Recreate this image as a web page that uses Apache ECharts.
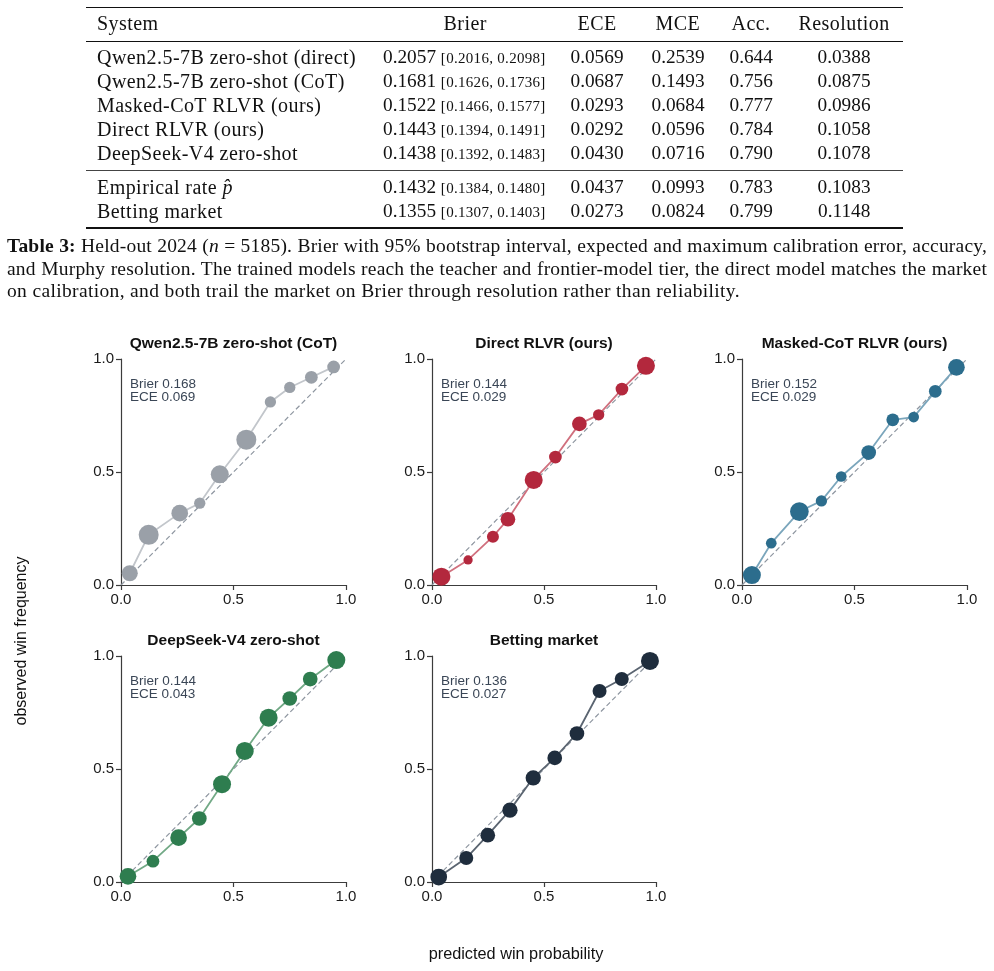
<!DOCTYPE html>
<html>
<head>
<meta charset="utf-8">
<script src="https://cdn.jsdelivr.net/npm/echarts@6/dist/echarts.min.js"></script>
<style>
  body { margin: 0; background: #fff; }
  #page { position: relative; width: 994px; height: 971px; overflow: hidden; }
  #calib { position: absolute; left: 0; top: 0; width: 994px; height: 971px; }
  .tex { position: absolute; font-family: 'Liberation Serif', 'DejaVu Serif', serif; color: #111; white-space: nowrap; }
  .rule { position: absolute; left: 86px; width: 817px; background: #111; }
  .cell { font-size: 19.3px; line-height: 24px; height: 24px; }
  .name { font-size: 20px; letter-spacing: 0.45px; }
  .small { font-size: 15px; letter-spacing: 0.3px; }
  #caption { position: absolute; left: 7px; top: 235px; width: 980px; font-family: 'Liberation Serif', serif; font-size: 19.5px; line-height: 22.6px; color: #111; }
  #caption div { text-align: justify; text-align-last: justify; white-space: nowrap; letter-spacing: 0.2px; word-spacing: -3px; }
  #caption div.last { text-align-last: left; letter-spacing: 0.35px; word-spacing: 0; }
</style>
</head>
<body>
<div id="page">
  <div id="calib"></div>
  <div id="table"></div>
  <div id="caption">
    <div><b>Table 3:</b> Held-out 2024 (<i>n</i> = 5185). Brier with 95% bootstrap interval, expected and maximum calibration error, accuracy,</div>
    <div>and Murphy resolution. The trained models reach the teacher and frontier-model tier, the direct model matches the market</div>
    <div class="last">on calibration, and both trail the market on Brier through resolution rather than reliability.</div>
  </div>
</div>
<script>
  // ---- table 3 ----
  let tableSystems = ['Qwen2.5-7B zero-shot (direct)', 'Qwen2.5-7B zero-shot (CoT)', 'Masked-CoT RLVR (ours)',
    'Direct RLVR (ours)', 'DeepSeek-V4 zero-shot', 'Empirical rate <i>p&#770;</i>', 'Betting market']
  let tableBrier = ['0.2057', '0.1681', '0.1522', '0.1443', '0.1438', '0.1432', '0.1355']
  let tableBrierLo = ['0.2016', '0.1626', '0.1466', '0.1394', '0.1392', '0.1384', '0.1307']
  let tableBrierHi = ['0.2098', '0.1736', '0.1577', '0.1491', '0.1483', '0.1480', '0.1403']
  let tableECE = ['0.0569', '0.0687', '0.0293', '0.0292', '0.0430', '0.0437', '0.0273']
  let tableMCE = ['0.2539', '0.1493', '0.0684', '0.0596', '0.0716', '0.0993', '0.0824']
  let tableAcc = ['0.644', '0.756', '0.777', '0.784', '0.790', '0.783', '0.799']
  let tableRes = ['0.0388', '0.0875', '0.0986', '0.1058', '0.1078', '0.1083', '0.1148']
  let tableHeader = ['System', 'Brier', 'ECE', 'MCE', 'Acc.', 'Resolution']

  // ---- reliability panels (bin mean prediction, observed frequency, bin count) ----
  let panelTitles = ['Qwen2.5-7B zero-shot (CoT)', 'Direct RLVR (ours)', 'Masked-CoT RLVR (ours)',
    'DeepSeek-V4 zero-shot', 'Betting market']
  let panelBrier = ['0.168', '0.144', '0.152', '0.144', '0.136']
  let panelECE = ['0.069', '0.029', '0.029', '0.043', '0.027']

  let qwenCotPred = [0.039, 0.123, 0.261, 0.350, 0.439, 0.557, 0.664, 0.750, 0.846, 0.945]
  let qwenCotObs = [0.052, 0.222, 0.318, 0.362, 0.490, 0.643, 0.810, 0.874, 0.919, 0.965]
  let qwenCotCount = [554, 865, 603, 276, 701, 865, 276, 276, 349, 349]

  let directPred = [0.042, 0.161, 0.272, 0.339, 0.454, 0.551, 0.658, 0.744, 0.848, 0.955]
  let directObs = [0.037, 0.111, 0.214, 0.291, 0.465, 0.566, 0.713, 0.753, 0.867, 0.970]
  let directCount = [701, 187, 311, 467, 701, 349, 467, 276, 349, 701]

  let maskedPred = [0.044, 0.130, 0.255, 0.353, 0.441, 0.563, 0.670, 0.763, 0.859, 0.953]
  let maskedObs = [0.044, 0.185, 0.325, 0.372, 0.480, 0.586, 0.731, 0.743, 0.857, 0.963]
  let maskedCount = [701, 248, 756, 276, 248, 467, 349, 248, 349, 603]

  let deepseekPred = [0.031, 0.142, 0.256, 0.348, 0.449, 0.550, 0.656, 0.750, 0.841, 0.957]
  let deepseekObs = [0.025, 0.092, 0.196, 0.281, 0.433, 0.580, 0.727, 0.812, 0.898, 0.982]
  let deepseekCount = [603, 349, 603, 467, 701, 701, 701, 467, 467, 701]

  let marketPred = [0.030, 0.153, 0.249, 0.348, 0.452, 0.548, 0.647, 0.748, 0.847, 0.973]
  let marketObs = [0.022, 0.106, 0.207, 0.318, 0.461, 0.549, 0.657, 0.845, 0.898, 0.978]
  let marketCount = [603, 424, 467, 506, 506, 467, 467, 424, 424, 701]

  let panelPred = [qwenCotPred, directPred, maskedPred, deepseekPred, marketPred]
  let panelObs = [qwenCotObs, directObs, maskedObs, deepseekObs, marketObs]
  let panelCount = [qwenCotCount, directCount, maskedCount, deepseekCount, marketCount]

  // ---- build the table ----
  let tbl = document.getElementById('table')
  function put(html, cls, css) {
    let d = document.createElement('div')
    d.className = cls
    d.innerHTML = html
    Object.assign(d.style, css)
    tbl.appendChild(d)
    return d
  }
  function centered(html, cls, cx, top) {
    let d = put(html, cls, { top: top + 'px', left: '0px' })
    d.style.left = (cx - d.offsetWidth / 2) + 'px'
  }
  put('', 'rule', { top: '6.5px', height: '1.6px' })
  put('', 'rule', { top: '40.5px', height: '0.9px' })
  put('', 'rule', { top: '169.5px', height: '1.2px', background: '#444' })
  put('', 'rule', { top: '227px', height: '1.6px' })

  let colCenters = [465, 597, 678, 751, 844]
  put(tableHeader[0], 'tex cell name', { left: '97px', top: '11px' })
  for (let c = 1; c < tableHeader.length; c++) centered(tableHeader[c], 'tex cell name', colCenters[c - 1], 11)

  let rowTops = [45, 69, 93, 117, 141, 175, 199]
  for (let r = 0; r < tableSystems.length; r++) {
    let t = rowTops[r]
    put(tableSystems[r], 'tex cell name', { left: '97px', top: t + 'px' })
    put(tableBrier[r] + ' <span class="small">[' + tableBrierLo[r] + ', ' + tableBrierHi[r] + ']</span>',
      'tex cell', { left: '383px', top: t + 'px' })
    centered(tableECE[r], 'tex cell', colCenters[1], t)
    centered(tableMCE[r], 'tex cell', colCenters[2], t)
    centered(tableAcc[r], 'tex cell', colCenters[3], t)
    centered(tableRes[r], 'tex cell', colCenters[4], t)
  }

  // ---- reliability diagrams ----
  let sans = 'Liberation Sans, Arial, Helvetica, sans-serif'
  let markerColors = ['#9aa0a8', '#b3283d', '#2c6d8d', '#2e7d4f', '#1f2d3d']
  let lineColors = ['#c2c6cb', '#d0707e', '#7ba6bc', '#72a986', '#5b6571']
  let grids = [
    { left: 121, top: 359, width: 225, height: 226 },
    { left: 432, top: 359, width: 224, height: 226 },
    { left: 742, top: 359, width: 225, height: 226 },
    { left: 121, top: 656, width: 225, height: 226 },
    { left: 432, top: 656, width: 224, height: 226 }
  ]
  let axisStyle = { color: '#3c3c3c', width: 1.2 }

  let option = {
    animation: false,
    title: [],
    grid: [],
    xAxis: [],
    yAxis: [],
    series: [],
    graphic: [
      {
        type: 'text', x: 22, y: 641, rotation: Math.PI / 2,
        style: { text: 'observed win frequency', font: '16px ' + sans, fill: '#111', align: 'center', verticalAlign: 'middle' }
      },
      {
        type: 'text', x: 516, y: 955,
        style: { text: 'predicted win probability', font: '16.3px ' + sans, fill: '#111', align: 'center', verticalAlign: 'middle' }
      }
    ]
  }

  panelTitles.forEach(function (name, i) {
    let g = grids[i]
    option.grid.push(g)
    option.title.push({
      text: name, left: g.left + g.width / 2, top: g.top - 23, textAlign: 'center', padding: 0,
      textStyle: { fontFamily: sans, fontSize: 15.5, fontWeight: 'bold', color: '#111' }
    })
    option.title.push({
      text: 'Brier ' + panelBrier[i] + '\nECE ' + panelECE[i], left: g.left + 9, top: g.top + 19, padding: 0,
      textStyle: { fontFamily: sans, fontSize: 13.5, fontWeight: 'normal', color: '#3a4656', lineHeight: 13 }
    })
    let axisCommon = {
      gridIndex: i, type: 'value', min: 0, max: 1, interval: 0.5,
      axisLine: { show: true, lineStyle: axisStyle },
      axisTick: { show: true, length: 5, lineStyle: axisStyle },
      splitLine: { show: false },
      axisLabel: { formatter: function (v) { return v.toFixed(1) }, fontFamily: sans, fontSize: 15, color: '#1a1a1a', margin: 7 }
    }
    option.xAxis.push(Object.assign({}, axisCommon))
    option.yAxis.push(Object.assign({}, axisCommon))
    option.series.push({
      type: 'line', xAxisIndex: i, yAxisIndex: i, data: [[0, 0], [1, 1]], symbol: 'none', silent: true,
      lineStyle: { color: '#8e96a0', width: 1.2, type: [5, 3] }, z: 1
    })
    option.series.push({
      type: 'line', xAxisIndex: i, yAxisIndex: i, clip: false, z: 3,
      data: panelPred[i].map(function (p, k) { return [p, panelObs[i][k], panelCount[i][k]] }),
      symbol: 'circle',
      symbolSize: function (v) { return 0.68 * Math.sqrt(v[2]) },
      itemStyle: { color: markerColors[i], opacity: 1 },
      lineStyle: { color: lineColors[i], width: 1.8 }
    })
  })

  let myChart = echarts.init(document.getElementById('calib'), null, { renderer: 'canvas' })
  myChart.setOption(option)
</script>
</body>
</html>
